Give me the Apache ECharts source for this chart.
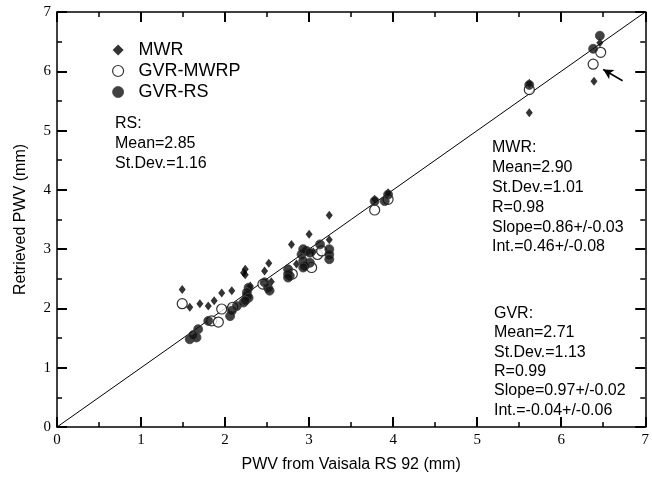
<!DOCTYPE html>
<html>
<head>
<meta charset="utf-8">
<script src="https://cdn.jsdelivr.net/npm/echarts@6/dist/echarts.min.js"></script>
<style>html,body{margin:0;padding:0;background:#fff}#c{width:652px;height:478px}</style>
</head>
<body>
<div id="c"></div>
<script>
// ---- data (PWV in mm) ----
const xTicks = [0, 1, 2, 3, 4, 5, 6, 7];
const mwr = [
  [1.49,2.32],[1.58,2.02],[1.70,2.08],[1.80,2.04],[1.87,2.13],[1.96,2.26],[2.08,2.30],
  [2.22,2.60],[2.24,2.66],[2.24,2.57],[2.47,2.63],[2.52,2.76],[2.79,3.08],[3.00,3.25],
  [3.24,3.16],[3.24,3.57],[2.30,2.38],[2.55,2.45],[2.85,2.75],[3.05,2.95],
  [3.78,3.84],[3.94,3.95],[5.62,5.80],[5.62,5.30],[6.39,5.83],[6.46,6.48]
];
const gvrMwrp = [
  [1.49,2.08],[1.84,1.79],[1.92,1.77],[1.96,1.99],[2.09,2.02],[2.45,2.41],[2.80,2.58],
  [3.10,2.91],[3.15,2.97],[3.03,2.69],[3.78,3.66],[3.94,3.84],[5.62,5.69],[6.47,6.32],[6.38,6.12]
];
const gvrRs = [
  [1.58,1.48],[1.66,1.51],[1.68,1.65],[1.62,1.55],[1.80,1.79],[2.06,1.87],[2.08,1.96],
  [2.14,2.04],[2.22,2.10],[2.26,2.21],[2.28,2.35],[2.26,2.27],[2.28,2.18],[2.24,2.13],
  [2.47,2.44],[2.51,2.35],[2.53,2.30],[2.75,2.66],[2.77,2.55],[2.75,2.58],[2.75,2.52],
  [2.91,2.91],[2.97,2.97],[3.01,2.77],[2.93,2.80],[2.95,2.72],[2.93,3.00],[3.01,2.94],
  [2.93,2.69],[3.13,3.08],[3.24,3.00],[3.24,2.91],[3.24,2.83],[3.78,3.81],[3.90,3.81],
  [3.94,3.92],[5.62,5.77],[6.46,6.60],[6.38,6.38]
];
const oneToOne = [[0,0],[7,7]];
const arrowPts = [[6.73,5.84],[6.50,6.03]];
const rsText = ['RS:', 'Mean=2.85', 'St.Dev.=1.16'];
const mwrText = ['MWR:', 'Mean=2.90', 'St.Dev.=1.01', 'R=0.98', 'Slope=0.86+/-0.03', 'Int.=0.46+/-0.08'];
const gvrText = ['GVR:', 'Mean=2.71', 'St.Dev.=1.13', 'R=0.99', 'Slope=0.97+/-0.02', 'Int.=-0.04+/-0.06'];

const sans = 'Liberation Sans, Arial, sans-serif';
const serif = 'Liberation Serif, Times New Roman, serif';

function axis(pos, labels, tickOpts, nameOpts) {
  return Object.assign({
    type: 'value', min: 0, max: 7, interval: 1, position: pos,
    axisLine: { show: true, onZero: false, lineStyle: { color: '#000', width: 1.5 } },
    splitLine: { show: false },
    axisLabel: labels ? { show: true, fontFamily: serif, fontSize: 15, color: '#000', margin: 6 } : { show: false }
  }, tickOpts, nameOpts || {});
}
const ticks = {
  axisTick: { show: true, inside: true, length: 10, lineStyle: { color: 'black', width: 2 } },
  minorTick: { show: true, splitNumber: 2, length: 5, lineStyle: { color: 'black', width: 1.5 } }
};

const chart = echarts.init(document.getElementById('c'), null, { renderer: 'canvas' });
chart.setOption({
  animation: false,
  backgroundColor: '#fff',
  grid: { left: 57, right: 6, top: 12, bottom: 50 },
  xAxis: [
    axis('bottom', true, ticks, { name: 'PWV from Vaisala RS 92 (mm)', nameLocation: 'middle', nameGap: 30,
      nameTextStyle: { fontFamily: sans, fontSize: 16, color: '#000' } }),
    axis('top', false, ticks)
  ],
  yAxis: [
    axis('left', true, ticks, { name: 'Retrieved PWV (mm)', nameLocation: 'middle', nameGap: 28,
      nameTextStyle: { fontFamily: sans, fontSize: 16, color: '#000' } }),
    axis('right', false, ticks)
  ],
  legend: {
    orient: 'vertical', left: 107, top: 36, itemGap: 3, itemWidth: 11, itemHeight: 11,
    textStyle: { fontFamily: sans, fontSize: 18, color: '#000', padding: [0, 0, 0, 10] },
    data: [
      { name: 'MWR', icon: 'diamond', itemStyle: { color: '#000' } },
      { name: 'GVR-MWRP', icon: 'circle', itemStyle: { color: '#fff', borderColor: '#000', borderWidth: 1.2 } },
      { name: 'GVR-RS', icon: 'circle', itemStyle: { color: '#111', borderColor: '#444', borderWidth: 1 } }
    ]
  },
  series: [
    { type: 'line', data: oneToOne, symbol: 'none', lineStyle: { color: '#000', width: 1 }, silent: true, z: 1,
      markLine: { silent: true, symbol: ['none', 'arrow'], symbolSize: [8, 10], label: { show: false },
        lineStyle: { color: '#000', width: 1.5, type: 'solid' },
        data: [[{ coord: arrowPts[0] }, { coord: arrowPts[1] }]] } },
    { name: 'MWR', type: 'scatter', data: mwr, symbol: 'diamond', symbolSize: [7, 9],
      itemStyle: { color: '#000' }, z: 3 },
    { name: 'GVR-MWRP', type: 'scatter', data: gvrMwrp, symbol: 'circle', symbolSize: 10,
      itemStyle: { color: '#fff', borderColor: '#000', borderWidth: 1.2 }, z: 2 },
    { name: 'GVR-RS', type: 'scatter', data: gvrRs, symbol: 'circle', symbolSize: 9,
      itemStyle: { color: '#111', borderColor: '#444', borderWidth: 1 }, z: 4 }
  ],
  graphic: [
    { type: 'text', left: 115, top: 114, style: { text: rsText.join('\n'), font: '16px ' + sans, lineHeight: 20, fill: '#000' } },
    { type: 'text', left: 492, top: 138, style: { text: mwrText.join('\n'), font: '16px ' + sans, lineHeight: 19.8, fill: '#000' } },
    { type: 'text', left: 494, top: 304, style: { text: gvrText.join('\n'), font: '16px ' + sans, lineHeight: 19.3, fill: '#000' } }
  ]
});
</script>
</body>
</html>
